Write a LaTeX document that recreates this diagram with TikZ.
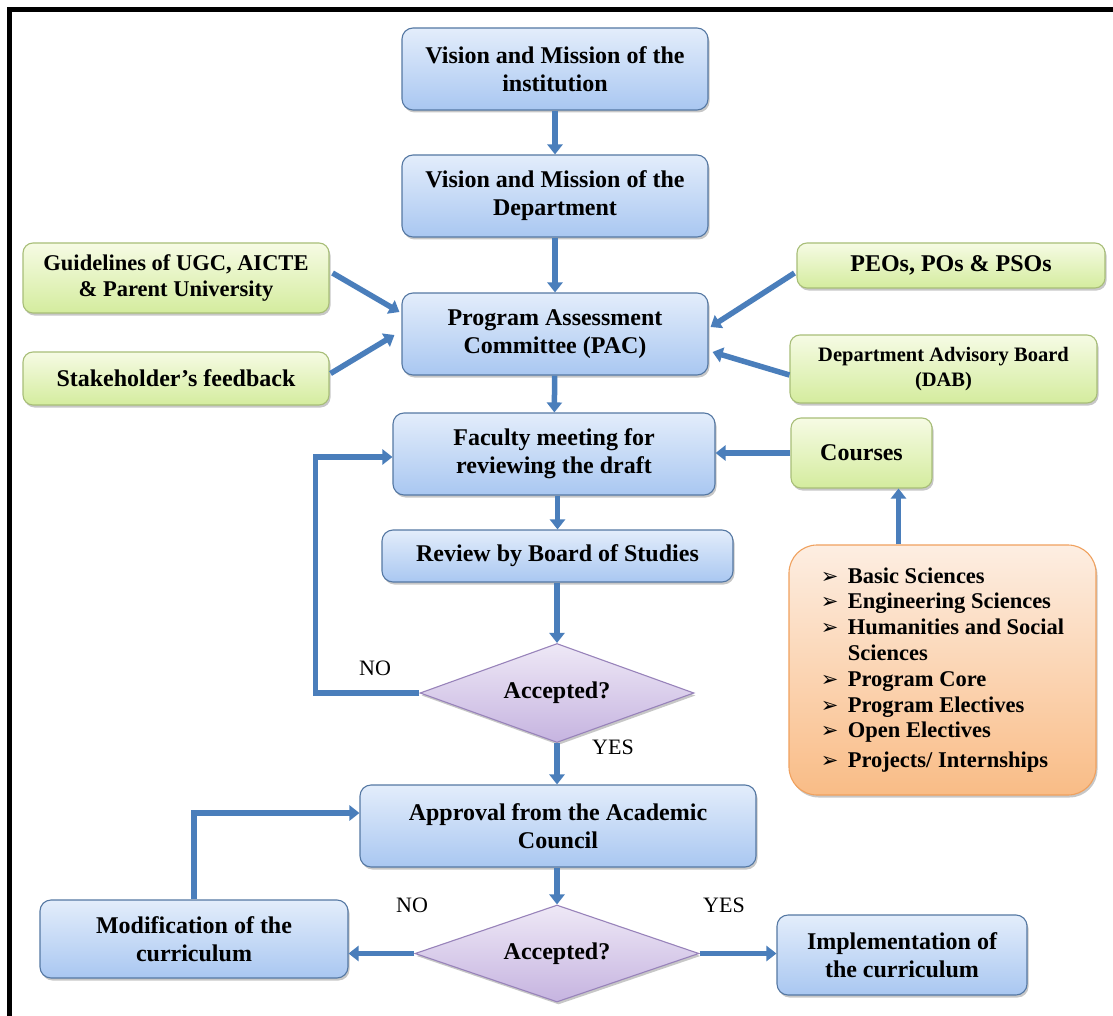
\documentclass[tikz,border=0pt]{standalone}
\usepackage{fontspec}
\setmainfont{Liberation Serif}
\newfontfamily\symf{DejaVu Sans}
\usetikzlibrary{arrows.meta,shapes.geometric,shadows,calc}
\definecolor{arrowblue}{HTML}{4A7EBB}
\definecolor{blueTop}{HTML}{E3EDFB}
\definecolor{blueBot}{HTML}{A9C7F1}
\definecolor{blueLine}{HTML}{5578A3}
\definecolor{greenTop}{HTML}{F6FBE4}
\definecolor{greenBot}{HTML}{D4EC9E}
\definecolor{greenLine}{HTML}{A8BE78}
\definecolor{purpTop}{HTML}{EEE8F6}
\definecolor{purpBot}{HTML}{C6B4E0}
\definecolor{purpLine}{HTML}{9883BA}
\definecolor{orTop}{HTML}{FDEEE2}
\definecolor{orBot}{HTML}{F9BC86}
\definecolor{orLine}{HTML}{F0A15E}
\newcommand{\bul}{\makebox[27pt][l]{\symf\fontsize{21}{21}\selectfont ➢}}
\begin{document}
\begin{tikzpicture}[x=1pt,y=-1pt,
  base/.style={inner sep=0pt, align=center, font=\bfseries\fontsize{24}{28}\selectfont,
    drop shadow={shadow xshift=1.5pt,shadow yshift=-2.5pt,fill=black,opacity=0.22}},
  bluebox/.style={base, rounded corners=11pt, draw=blueLine, line width=1.1pt, top color=blueTop, bottom color=blueBot},
  greenbox/.style={base, rounded corners=10pt, draw=greenLine, line width=1.1pt, top color=greenTop, bottom color=greenBot},
  decide/.style={base, diamond, aspect=2.8, draw=purpLine, line width=1.1pt, top color=purpTop, bottom color=purpBot},
  orbox/.style={base, rounded corners=28pt, draw=orLine, line width=1.1pt, top color=orTop, bottom color=orBot, align=left},
  lbl/.style={inner sep=0pt, font=\fontsize{22}{24}\selectfont},
  arr/.style={draw=arrowblue, line width=5.5pt, -{Triangle[width=15pt,length=10pt]}},
  ]
\useasboundingbox (0,0) rectangle (1113,1016);
\fill[white] (0,0) rectangle (1113,1016);
\draw[line width=4.5pt] (9.5,1016) -- (9.5,9.5) -- (1113,9.5);

\node[bluebox, minimum width=306pt, minimum height=82pt] (vinst) at (555,69) {Vision and Mission of the\\institution};
\node[bluebox, minimum width=306pt, minimum height=82pt] (vdept) at (555,196) {Vision and Mission of the\\Department};
\node[bluebox, minimum width=306pt, minimum height=82pt] (pac) at (555,334) {Program Assessment\\Committee (PAC)};
\node[greenbox, minimum width=306pt, minimum height=70pt, font=\bfseries\fontsize{22.5}{26}\selectfont] (guide) at (176,278) {Guidelines of UGC, AICTE\\\& Parent University};
\node[greenbox, minimum width=306pt, minimum height=53pt] (stake) at (176,378.5) {Stakeholder’s feedback};
\node[greenbox, minimum width=308pt, minimum height=45pt] (peos) at (951,265.5) {PEOs, POs \& PSOs};
\node[greenbox, minimum width=307pt, minimum height=68pt, font=\bfseries\fontsize{20.5}{25}\selectfont] (dab) at (943.5,369) {Department Advisory Board\\(DAB)};
\node[bluebox, minimum width=322pt, minimum height=82pt] (fac) at (554,454) {Faculty meeting for\\reviewing the draft};
\node[greenbox, minimum width=141pt, minimum height=70pt] (courses) at (861.5,453) {Courses};
\node[bluebox, minimum width=351pt, minimum height=52pt] (bos) at (557.5,556) {Review by Board of Studies};
\node[decide, minimum width=274pt, minimum height=99pt] (dia1) at (557,693) {Accepted?};
\node[orbox, minimum width=307pt, minimum height=250pt, font=\bfseries\fontsize{22.5}{25.8}\selectfont] (cats) at (942.5,670)
  {\bul Basic Sciences\\ \bul Engineering Sciences\\ \bul Humanities and Social\\ \hspace*{27pt}Sciences\\ \bul Program Core\\ \bul Program Electives\\ \bul Open Electives\\[4pt] \bul Projects/ Internships};
\node[bluebox, minimum width=396pt, minimum height=82pt] (appr) at (558,826) {Approval from the Academic\\Council};
\node[decide, minimum width=284pt, minimum height=97pt] (dia2) at (557,953.5) {Accepted?};
\node[bluebox, minimum width=308pt, minimum height=78pt] (modif) at (194,939) {Modification of the\\curriculum};
\node[bluebox, minimum width=250pt, minimum height=80pt] (impl) at (902,955) {Implementation of\\the curriculum};

\node[lbl] (no1) at (375,668) {NO};
\node[lbl] (yes1) at (613,747) {YES};
\node[lbl] (no2) at (412,905) {NO};
\node[lbl] (yes2) at (724,905) {YES};

\draw[arr] (vinst) -- (vdept);
\draw[arr] (vdept) -- (pac);
\draw[arr] (pac) -- (fac);
\draw[arr] (fac.south -| bos.north) -- (bos.north);
\draw[arr] (bos.south -| dia1.north) -- (dia1.north);
\draw[arr] (dia1.south) -- (dia1.south |- appr.north);
\draw[arr] (appr.south -| dia2.north) -- (dia2.north);
\draw[arr] ($(guide.east)+(3,-5)$) -- ($(pac.west)+(-2,-22)$);
\draw[arr] ($(stake.east)+(1,-5)$) -- ($(pac.west)+(-7,1)$);
\draw[arr] ($(peos.west)+(-2,7.5)$) -- ($(pac.east)+(2,-7)$);
\draw[arr] ($(dab.west)+(0,6)$) -- ($(pac.east)+(4,18)$);
\draw[arr] (courses.west) -- (courses.west -| fac.east);
\coordinate (cin) at ($(courses.south)+(37,0)$);
\draw[arr] (cats.north -| cin) -- (cin);
\draw[arr] (dia1.west) -- ++(-104,0) |- ($(fac.west)+(0,3)$);
\draw[arr] (dia2.west) -- (dia2.west -| modif.east);
\draw[arr] (dia2.east) -- (dia2.east -| impl.west);
\draw[arr] (modif.north) |- ($(appr.west)+(0,-13)$);
\end{tikzpicture}
\end{document}
